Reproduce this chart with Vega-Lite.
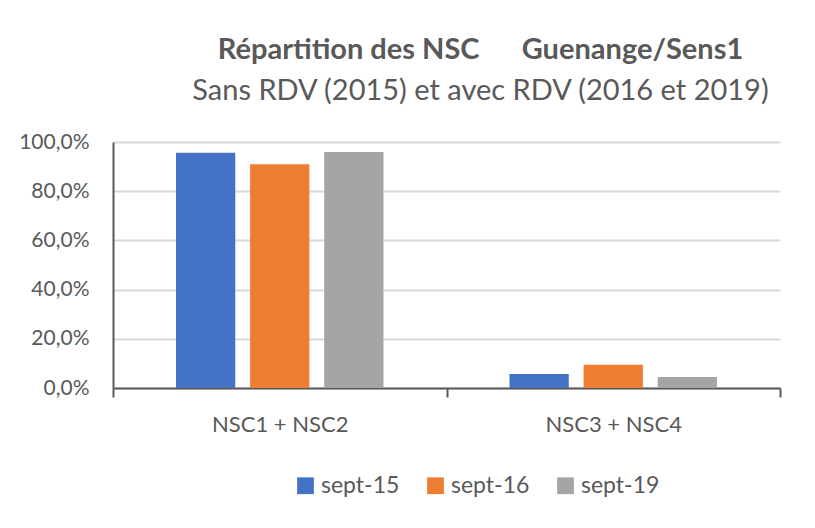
{
  "$schema": "https://vega.github.io/schema/vega-lite/v6.json",
  "width": 667,
  "height": 246,
  "autosize": {"type": "none"},
  "padding": {"left": 113, "top": 142, "right": 35, "bottom": 140},
  "background": "white",
  "config": {
    "font": "Lato",
    "view": {"stroke": null},
    "axis": {"labelColor": "#595959", "labelFont": "Lato"},
    "legend": {"labelFont": "Lato"}
  },
  "title": {
    "text": "Répartition des NSC\u00a0\u00a0\u00a0\u00a0\u00a0\u00a0Guenange/Sens1",
    "subtitle": "Sans RDV (2015) et avec RDV (2016 et 2019)",
    "anchor": "middle",
    "dx": 34,
    "offset": 25,
    "fontSize": 29,
    "fontWeight": "bold",
    "color": "#595959",
    "subtitleFontSize": 29,
    "subtitleColor": "#595959",
    "subtitlePadding": 12,
    "font": "Lato",
    "subtitleFont": "Lato"
  },
  "data": {
    "values": [
      {"groupe": "NSC1 + NSC2", "date": "sept-15", "part": 0.956},
      {"groupe": "NSC1 + NSC2", "date": "sept-16", "part": 0.91},
      {"groupe": "NSC1 + NSC2", "date": "sept-19", "part": 0.959},
      {"groupe": "NSC3 + NSC4", "date": "sept-15", "part": 0.057},
      {"groupe": "NSC3 + NSC4", "date": "sept-16", "part": 0.095},
      {"groupe": "NSC3 + NSC4", "date": "sept-19", "part": 0.045}
    ]
  },
  "mark": {"type": "bar"},
  "encoding": {
    "x": {
      "field": "groupe",
      "type": "nominal",
      "title": null,
      "scale": {"paddingInner": 0, "paddingOuter": 0},
      "axis": {
        "labelAngle": 0,
        "labelFontSize": 22,
        "labelPadding": 17,
        "domainColor": "#595959",
        "domainWidth": 2,
        "tickColor": "#595959",
        "tickWidth": 2,
        "tickSize": 9,
        "tickBand": "extent"
      }
    },
    "xOffset": {
      "field": "date",
      "type": "nominal",
      "scale": {"paddingInner": 0.2, "paddingOuter": 0.85}
    },
    "y": {
      "field": "part",
      "type": "quantitative",
      "title": null,
      "scale": {"domain": [0, 1]},
      "axis": {
        "values": [0, 0.2, 0.4, 0.6, 0.8, 1],
        "labelExpr": "replace(format(datum.value, '.1%'), '.', ',')",
        "labelFontSize": 21,
        "labelPadding": 24,
        "ticks": false,
        "domainColor": "#595959",
        "domainWidth": 2,
        "gridColor": "#d9d9d9",
        "gridWidth": 2
      }
    },
    "color": {
      "field": "date",
      "type": "nominal",
      "title": null,
      "scale": {
        "domain": ["sept-15", "sept-16", "sept-19"],
        "range": ["#4472c4", "#ed7d31", "#a5a5a5"]
      },
      "legend": {
        "orient": "none",
        "legendX": 181,
        "legendY": 332,
        "direction": "horizontal",
        "symbolType": "square",
        "symbolSize": 280,
        "symbolStrokeWidth": 0,
        "labelFontSize": 23,
        "labelColor": "#595959",
        "labelOffset": 4,
        "columnPadding": 24
      }
    }
  }
}
